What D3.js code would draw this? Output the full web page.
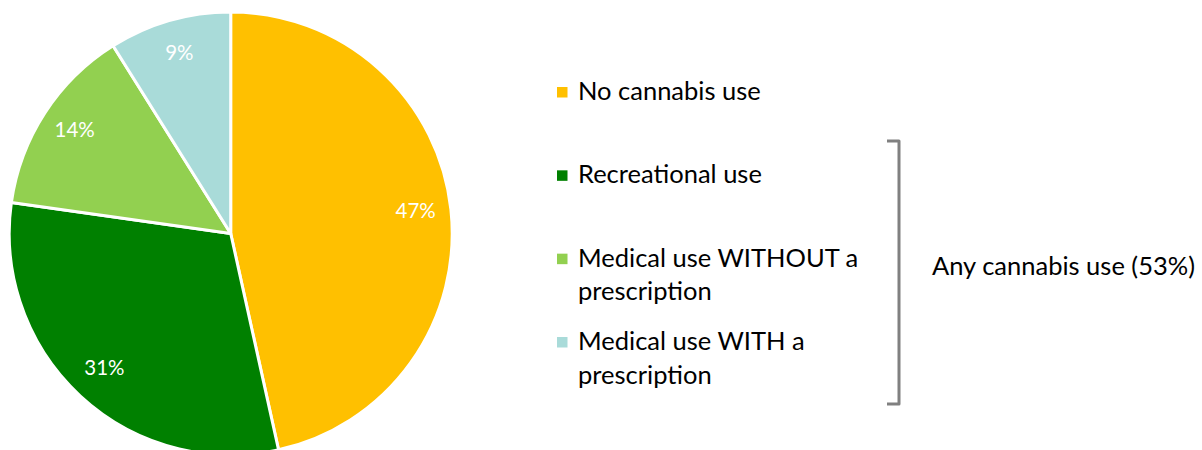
<!DOCTYPE html>
<html>
<head>
<meta charset="utf-8">
<script src="https://cdn.jsdelivr.net/npm/d3@7"></script>
<style>
  html, body { margin: 0; padding: 0; background: #fff; }
  svg { display: block; font-family: Lato, "Open Sans", sans-serif; }
</style>
</head>
<body>
<svg id="chart" width="1202" height="450"></svg>
<script>
// Share of respondents by cannabis use
const categories = [
  "No cannabis use",
  "Recreational use",
  "Medical use WITHOUT a prescription",
  "Medical use WITH a prescription"
];
const values = [47, 31, 14, 9];
const legendLines = [
  ["No cannabis use"],
  ["Recreational use"],
  ["Medical use WITHOUT a", "prescription"],
  ["Medical use WITH a", "prescription"]
];
const colors = ["#FFC000", "#008000", "#92D050", "#A9DBD9"];
const groupLabel = "Any cannabis use (53%)";

const svg = d3.select("#chart");

// ---- pie ----
const cx = 230.7, cy = 233.5, radius = 221.5;
const data = categories.map((c, i) => ({ category: c, value: values[i], color: colors[i] }));

const pie = d3.pie().sort(null).value(d => d.value);
const arc = d3.arc().innerRadius(0).outerRadius(radius);
const labelArc = d3.arc().innerRadius(186).outerRadius(186);

const pieG = svg.append("g").attr("transform", `translate(${cx},${cy})`);
const arcs = pie(data);

pieG.selectAll("path.slice")
  .data(arcs)
  .join("path")
  .attr("class", "slice")
  .attr("d", arc)
  .attr("fill", d => d.data.color)
  .attr("stroke", "#fff")
  .attr("stroke-width", 3)
  .attr("stroke-linejoin", "round");

pieG.selectAll("text.pct")
  .data(arcs)
  .join("text")
  .attr("class", "pct")
  .attr("transform", d => {
    const [x, y] = labelArc.centroid(d);
    return `translate(${x},${y - 3})`;
  })
  .attr("text-anchor", "middle")
  .attr("dominant-baseline", "central")
  .attr("fill", "#fff")
  .attr("font-size", 20.5)
  .text(d => d.data.value + "%");

// ---- legend ----
const legendY = d3.scalePoint().domain(categories).range([100, 350]);
const legendX = 557;

const leg = svg.append("g");
const items = leg.selectAll("g.item")
  .data(data)
  .join("g")
  .attr("class", "item")
  .attr("transform", d => `translate(${legendX},${legendY(d.category)})`);

items.append("rect")
  .attr("x", 0)
  .attr("y", -13)
  .attr("width", 10.5)
  .attr("height", 10.5)
  .attr("fill", d => d.color);

items.append("text")
  .attr("x", 21)
  .attr("y", 0)
  .attr("font-size", 25.5)
  .attr("fill", "#000")
  .selectAll("tspan")
  .data((d, i) => legendLines[i])
  .join("tspan")
  .attr("x", 21)
  .attr("dy", (d, i) => i === 0 ? 0 : 33.7)
  .text(d => d);

// ---- bracket grouping the cannabis-use categories ----
const bracketTop = 141, bracketBottom = 404, bracketX = 899, bracketArm = 12;
svg.append("path")
  .attr("d", `M${bracketX - bracketArm},${bracketTop} H${bracketX} V${bracketBottom} H${bracketX - bracketArm}`)
  .attr("fill", "none")
  .attr("stroke", "#808080")
  .attr("stroke-width", 3)
  .attr("stroke-linejoin", "round");

svg.append("text")
  .attr("x", 932)
  .attr("y", 275)
  .attr("font-size", 25.5)
  .attr("fill", "#000")
  .text(groupLabel);
</script>
</body>
</html>
